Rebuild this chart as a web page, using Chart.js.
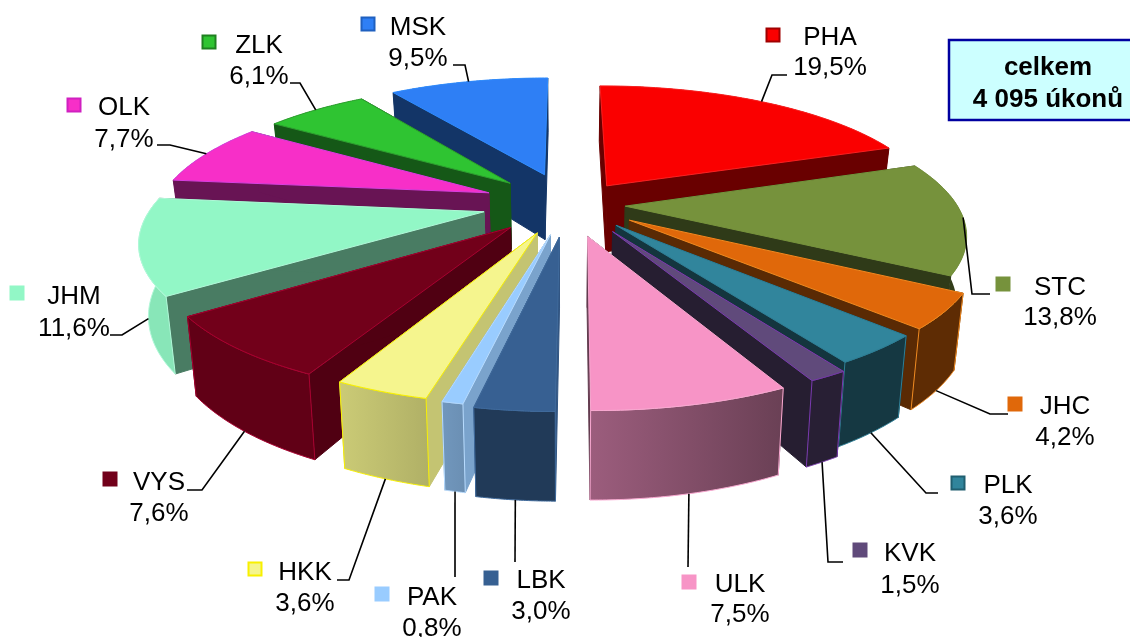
<!DOCTYPE html>
<html><head><meta charset="utf-8">
<style>html,body{margin:0;padding:0;background:#fff}canvas{display:block}</style>
<script src="https://cdn.jsdelivr.net/npm/chart.js@4/dist/chart.umd.min.js"></script>
</head><body><canvas id="c" width="1130" height="637"></canvas>
<script>
const categories = ['PHA','STC','JHC','PLK','KVK','ULK','LBK','PAK','HKK','VYS','JHM','OLK','ZLK','MSK'];
const shares = [19.5,13.8,4.2,3.6,1.5,7.5,3.0,0.8,3.6,7.6,11.6,7.7,6.1,9.5];
const sliceExplode = [.22,.176,.22,.22,.22,.22,.22,.22,.22,.22,.26,.22,.22,.22];
const explodeNudgeU = [.003,.006,.015,.012,.03,.015,.006,.006,-.003,-.015,.01,-.027,-.015,0];
const explodeNudgeV = [0,.03,.04,.04,.013,0,0,.012,.018,.018,.037,.047,.047,.065];
const topColors = ['#fa0000','#76923c','#e0680a','#31859c','#604a7b','#f794c6','#376092','#99ccff','#f5f58e','#72001a','#92f7c6','#f72fc8','#2fc432','#2e7ff5'];
const edgeColors = ['#fa2020','#76923c','#f08a20','#2f7f96','#7a3ab0','#f8a8d0','#3f6a9c','#b8dcff','#f8f000','#a80030','#b0f8d8','#d840e0','#2ea030','#2e8cff'];
const wallShade = [.42,.4,.4,.4,.4,.4,.9,.8,.8,.7,.5,.42,.45,.42];
const outerShadeLeft = [.42,.42,.42,.42,.42,.63,.6,.74,.83,.85,.93,.42,.45,.42];
const outerShadeRight = [.42,.42,.42,.42,.42,.43,.6,.7,.72,.85,.93,.42,.45,.42];
const swatchBorders = ['#a00000','#76923c','#e0680a','#205f70','#604a7b','#f794c6','#376092','#99ccff','#f8f000','#72001a','#92f7c6','#d020c0','#1f8020','#1f60c0'];

// Label layout: [swatch x, swatch y, text x, name y, share y, elbow x, elbow y, end x, end y]
const labelLayout = {
  PHA:[773,35,830,36,66,772,75,787,75], STC:[1003,284,1060,286,316,972,294,990,294],
  JHC:[1015,404,1065,405,436,990,414,1008,414], PLK:[958,483,1008,484,515,926,493,938,493],
  KVK:[860,550,910,552,584,828,562,843,562], ULK:[689,582,740,583,613,688,567,688,567],
  LBK:[491,578,541,579,610,515,562,515,562], PAK:[382,594,432,596,627,455,577,455,577],
  HKK:[255,569,305,571,602,349,580,337,580], VYS:[110,479,159,481,512,202,490,187,490],
  JHM:[17,293,74,295,327,122,335,110,335], OLK:[74,105,124,106,138,170,145,157,145],
  ZLK:[209,42,259,44,75,300,83,290,83], MSK:[368,24,418,26,57,465,65,453,65]
};
const totalLines = ['celkem','4 095 úkonů'];

const FONT = '"Liberation Sans", Arial, sans-serif';
const PERSP = .195, SX = 1.61, SY = .615, DEPTH = .33, CONVERGE = .977;

function shade(hex, f){
  const n = parseInt(hex.slice(1),16);
  return `rgb(${Math.round((n>>16&255)*f)},${Math.round((n>>8&255)*f)},${Math.round((n&255)*f)})`;
}
function projector(arc, i){
  const cx = arc.x, cy = arc.y, R = arc.outerRadius, e = sliceExplode[i];
  const a0 = arc.startAngle + Math.PI/2, a1 = arc.endAngle + Math.PI/2, m = (a0+a1)/2;
  const p = (t, r, low) => {
    const u = e*Math.sin(m) + explodeNudgeU[i] + r*Math.sin(t), v = e*Math.cos(m) + explodeNudgeV[i] + r*Math.cos(t);
    const d = 1 + PERSP*v;
    let x = cx + R*SX*u/d, y = cy - R*SY*v/d;
    if (low){ x = cx + (x-cx)*CONVERGE; y += R*DEPTH/d; }
    return [x,y];
  };
  return {p, a0, a1, m};
}
function poly(ctx, pts, fill, stroke){
  ctx.beginPath();
  pts.forEach((q,i)=> i ? ctx.lineTo(q[0],q[1]) : ctx.moveTo(q[0],q[1]));
  ctx.closePath();
  ctx.fillStyle = fill; ctx.fill();
  if (stroke){ ctx.strokeStyle = stroke; ctx.lineWidth = 1; ctx.lineJoin='round'; ctx.stroke(); }
}
const pie3d = {
  id:'pie3d',
  beforeDatasetsDraw(chart){
    const ctx = chart.ctx, arcs = chart.getDatasetMeta(0).data;
    const order = arcs.map((a,i)=>i).sort((i,j)=>{
      const f = k => Math.cos((arcs[k].startAngle+arcs[k].endAngle)/2 + Math.PI/2);
      return f(j)-f(i);
    });
    ctx.save();
    order.forEach(i=>{
      const {p,a0,a1} = projector(arcs[i], i);
      const top = topColors[i], edge = edgeColors[i];
      const rim = [], rimLow = [];
      const n = 48;
      for (let s=0;s<=n;s++){ const t=a0+(a1-a0)*s/n; rim.push(p(t,1,false)); rimLow.push(p(t,1,true)); }
      const wall = shade(top, wallShade[i]);
      [a0,a1].forEach(t=> poly(ctx,[p(t,0,false),p(t,1,false),p(t,1,true),p(t,0,true)],wall,wall));
      const xs = rim.concat(rimLow).map(q=>q[0]);
      const g = ctx.createLinearGradient(Math.min(...xs),0,Math.max(...xs),0);
      g.addColorStop(0,shade(top,outerShadeLeft[i])); g.addColorStop(1,shade(top,outerShadeRight[i]));
      const front = Math.cos((a0+a1)/2) < -0.2;
      poly(ctx, rim.concat(rimLow.slice().reverse()), g, front ? edge : null);
      poly(ctx, [p(a0,0,false)].concat(rim), top, edge);
    });
    ctx.restore();
    return false;
  },
  afterDraw(chart){
    const ctx = chart.ctx, arcs = chart.getDatasetMeta(0).data;
    ctx.save();
    categories.forEach((name,i)=>{
      const L = labelLayout[name], {p,m} = projector(arcs[i], i);
      const start = p(m,1,Math.cos(m) < -0.1);
      ctx.beginPath(); ctx.moveTo(start[0],start[1]); ctx.lineTo(L[5],L[6]); ctx.lineTo(L[7],L[8]);
      ctx.strokeStyle='#000'; ctx.lineWidth=1.6; ctx.stroke();
      ctx.fillStyle=topColors[i]; ctx.strokeStyle=swatchBorders[i]; ctx.lineWidth=2;
      ctx.beginPath(); ctx.rect(L[0]-6.5,L[1]-6.5,13,13); ctx.fill(); ctx.stroke();
      ctx.fillStyle='#000'; ctx.font='26px '+FONT; ctx.textAlign='center'; ctx.textBaseline='middle';
      ctx.fillText(name,L[2],L[3]+1.5);
      ctx.fillText(shares[i].toFixed(1).replace('.',',')+'%',L[2],L[4]+1.5);
    });
    ctx.fillStyle='#ccffff'; ctx.strokeStyle='#0000a0'; ctx.lineWidth=2.5;
    ctx.fillRect(949,40,190,80); ctx.strokeRect(949,40,190,80);
    ctx.fillStyle='#000'; ctx.font='bold 26px '+FONT;
    ctx.fillText(totalLines[0],1048,67.5); ctx.fillText(totalLines[1],1048,99.5);
    ctx.restore();
  }
};
new Chart(document.getElementById('c'),{
  type:'pie',
  data:{labels:categories,datasets:[{data:shares,backgroundColor:topColors,borderColor:edgeColors}]},
  options:{responsive:false,animation:false,
    layout:{padding:{bottom:221}},
    plugins:{legend:{display:false},tooltip:{enabled:false}}},
  plugins:[pie3d]
});
</script></body></html>
